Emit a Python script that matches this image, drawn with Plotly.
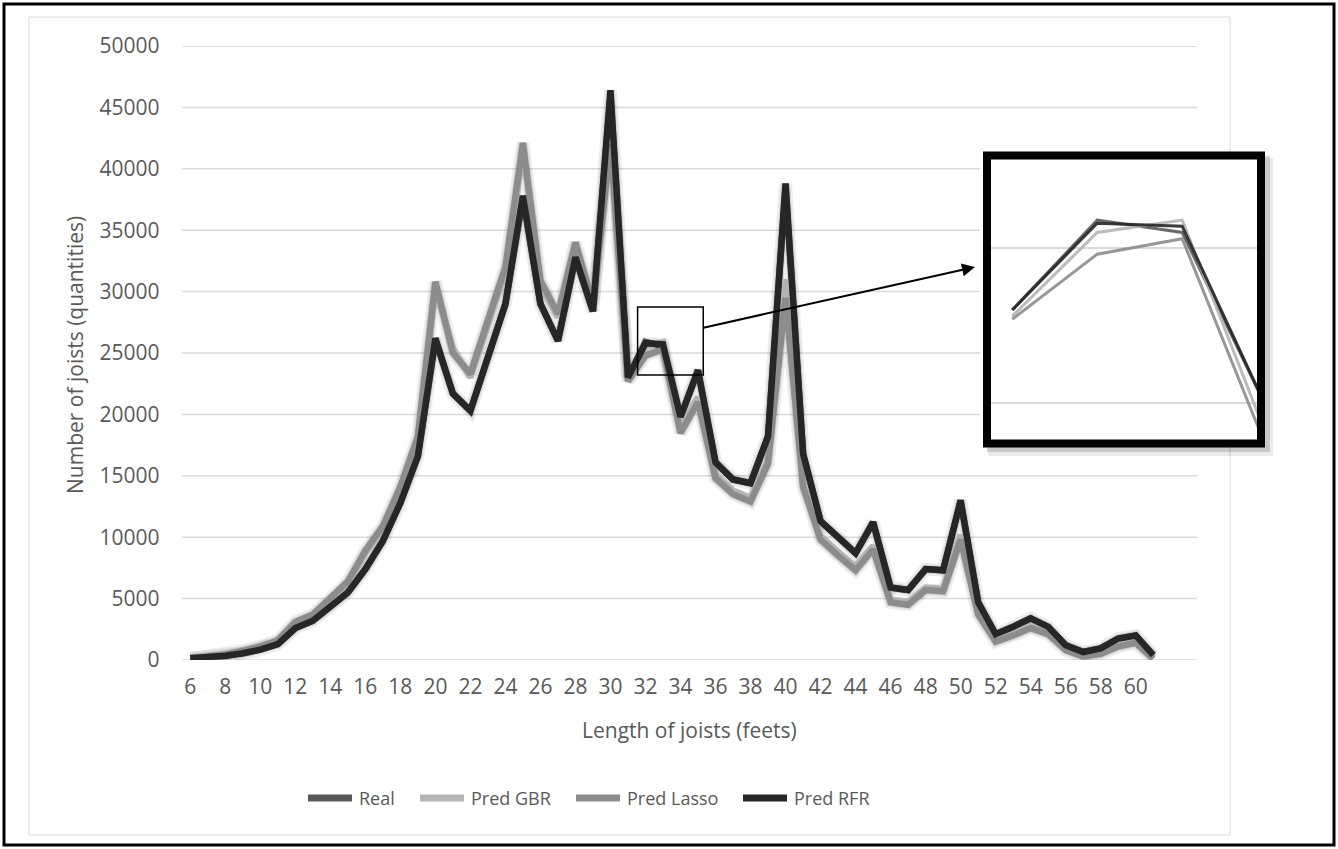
import plotly.graph_objects as go

# ---------------- data ----------------
lengths = list(range(6, 62))
real = [150, 200, 350, 550, 850, 1300, 2600, 3200, 4300, 5500,
        7400, 9700, 12800, 16600, 26000, 21700, 20300, 24500, 29000, 37600,
        29000, 26000, 32700, 28400, 46000, 23000, 25900, 25500, 19800, 23500,
        16100, 14700, 14400, 18200, 38500, 16800, 11300, 10000, 8700, 11200,
        5900, 5700, 7400, 7300, 12900, 4700, 2100, 2700, 3400, 2700,
        1200, 650, 950, 1750, 2000, 400]
pred_gbr = [120, 230, 420, 700, 1050, 1500, 3000, 3600, 4900, 6300,
            8700, 10700, 13900, 18000, 30200, 25400, 23000, 27300, 31600, 41500,
            30600, 27900, 33700, 28900, 43500, 22800, 25500, 25900, 18900, 21400,
            15100, 13800, 13200, 16300, 31000, 14400, 10100, 8800, 7600, 9300,
            4900, 4700, 5900, 5800, 10200, 3900, 1600, 2100, 2800, 2200,
            900, 350, 600, 1200, 1500, 150]
pred_lasso = [100, 250, 450, 750, 1100, 1600, 3100, 3700, 5000, 6400,
              8900, 10900, 14100, 18200, 30800, 25000, 23300, 27700, 32000, 42100,
              30900, 28200, 34000, 29000, 42000, 22700, 24800, 25300, 18500, 21000,
              14800, 13500, 12900, 16000, 29500, 14100, 9800, 8500, 7300, 9000,
              4700, 4500, 5700, 5600, 9800, 3700, 1500, 2000, 2600, 2100,
              800, 300, 500, 1100, 1400, 100]
pred_rfr = [150, 200, 350, 550, 850, 1300, 2600, 3200, 4300, 5500,
            7400, 9700, 12800, 16600, 26200, 21700, 20300, 24500, 29000, 37800,
            29000, 26000, 32800, 28400, 46400, 23000, 25800, 25700, 19800, 23600,
            16100, 14700, 14400, 18200, 38800, 16800, 11300, 10000, 8700, 11200,
            5900, 5700, 7400, 7300, 13000, 4700, 2100, 2700, 3400, 2700,
            1200, 650, 950, 1750, 2000, 400]

series_names = ["Real", "Pred GBR", "Pred Lasso", "Pred RFR"]
series_values = [real, pred_gbr, pred_lasso, pred_rfr]
series_colors = ["#595959", "#b4b4b4", "#8c8c8c", "#262626"]

y_ticks = list(range(0, 50001, 5000))
x_ticks = list(range(6, 61, 2))

# zoomed window (inset) shows lengths 31..35
zoom_start, zoom_end = 31, 35

# ---------------- layout helpers ----------------
W, H = 1338, 849


def fx(px):
    return px / W


def fy(py):
    return 1 - py / H


TEXT = "#595959"
GRID = "#d9d9d9"
FONT = "Open Sans"

fig = go.Figure()

# soft shadows under the main lines
for vals in (pred_lasso, pred_rfr):
    fig.add_trace(go.Scatter(x=lengths, y=vals, mode="lines",
                             line=dict(color="rgba(0,0,0,0.07)", width=13),
                             showlegend=False, hoverinfo="skip"))
    fig.add_trace(go.Scatter(x=lengths, y=vals, mode="lines",
                             line=dict(color="rgba(0,0,0,0.10)", width=9),
                             showlegend=False, hoverinfo="skip"))

for name, vals, col in zip(series_names, series_values, series_colors):
    fig.add_trace(go.Scatter(x=lengths, y=vals, mode="lines", name=name,
                             line=dict(color=col, width=6.5), showlegend=False))

# inset traces
i0 = lengths.index(zoom_start)
i1 = lengths.index(zoom_end) + 1
for name, vals, col in zip(series_names, series_values, series_colors):
    fig.add_trace(go.Scatter(x=lengths[i0:i1], y=vals[i0:i1], mode="lines",
                             line=dict(color=col, width=3), opacity=0.9,
                             xaxis="x2", yaxis="y2", showlegend=False,
                             hoverinfo="skip"))

shapes = []
# light frame of the chart area
shapes.append(dict(type="rect", xref="paper", yref="paper",
                   x0=fx(29), x1=fx(1230), y0=fy(835), y1=fy(17),
                   line=dict(color=GRID, width=1), layer="below"))
# horizontal gridlines (cut where the inset sits)
for v in y_ticks:
    x_end = fx(980) if 17000 < v < 41500 else fx(1197)
    shapes.append(dict(type="line", xref="paper", yref="y",
                       x0=fx(182), x1=x_end, y0=v, y1=v,
                       line=dict(color=GRID, width=1.5), layer="below"))
# inset shadow + white background
shapes.append(dict(type="rect", xref="paper", yref="paper",
                   x0=fx(988), x1=fx(1273), y0=fy(456), y1=fy(158),
                   fillcolor="rgba(0,0,0,0.08)", line=dict(width=0), layer="below"))
shapes.append(dict(type="rect", xref="paper", yref="paper",
                   x0=fx(987), x1=fx(1270), y0=fy(452), y1=fy(156),
                   fillcolor="rgba(0,0,0,0.15)", line=dict(width=0), layer="below"))
shapes.append(dict(type="rect", xref="paper", yref="paper",
                   x0=fx(983), x1=fx(1265), y0=fy(447), y1=fy(152),
                   fillcolor="white", line=dict(width=0), layer="below"))
# inset border
shapes.append(dict(type="rect", xref="paper", yref="paper",
                   x0=fx(987), x1=fx(1261), y0=fy(443.5), y1=fy(155.5),
                   line=dict(color="black", width=8), layer="above"))
# small selection box on the main chart
shapes.append(dict(type="rect", xref="x", yref="y",
                   x0=31.55, x1=35.3, y0=23200, y1=28750,
                   line=dict(color="black", width=1.5), layer="above"))
# outer border
shapes.append(dict(type="rect", xref="paper", yref="paper",
                   x0=fx(4), x1=fx(1334), y0=fy(845), y1=fy(4),
                   line=dict(color="black", width=3), layer="above"))

annotations = [
    dict(x=fx(975), y=fy(267), xref="paper", yref="paper", text="",
         showarrow=True, ax=-273, ay=61, arrowhead=2, arrowsize=1.3,
         arrowwidth=2, arrowcolor="black"),
    dict(x=fx(75), y=fy(355), xref="paper", yref="paper",
         xanchor="center", yanchor="middle",
         text="Number of joists (quantities)", showarrow=False, textangle=-90,
         font=dict(family=FONT, size=21, color=TEXT)),
    dict(x=fx(689), y=fy(730), xref="paper", yref="paper",
         xanchor="center", yanchor="middle",
         text="Length of joists (feets)", showarrow=False,
         font=dict(family=FONT, size=21, color=TEXT)),
]

# legend (line sample + label), laid out like the original
legend_x = [305, 417, 573, 740]
legend_y = 798
for name, col, lx in zip(series_names, series_colors, legend_x):
    shapes.append(dict(type="line", xref="paper", yref="paper",
                       x0=fx(lx + 3), x1=fx(lx + 47), y0=fy(legend_y), y1=fy(legend_y),
                       line=dict(color=col, width=7), layer="above"))
    annotations.append(dict(x=fx(lx + 52), y=fy(legend_y), xref="paper", yref="paper",
                            xanchor="left", yanchor="middle", text=name,
                            showarrow=False,
                            font=dict(family=FONT, size=18, color=TEXT)))

fig.update_layout(
    width=W, height=H,
    margin=dict(l=0, r=0, t=0, b=0, autoexpand=False),
    paper_bgcolor="white", plot_bgcolor="rgba(0,0,0,0)",
    font=dict(family=FONT, color=TEXT),
    shapes=shapes, annotations=annotations,
    showlegend=False,
    xaxis=dict(domain=[fx(181.5), fx(1197)], range=[5.5, 63.5],
               tickmode="array", tickvals=x_ticks,
               ticktext=[str(t) for t in x_ticks],
               showgrid=False, zeroline=False, showline=False, ticks="",
               tickfont=dict(family=FONT, size=21, color=TEXT),
               ticklabelstandoff=12),
    yaxis=dict(domain=[fy(660), fy(46)], range=[0, 50000],
               tickmode="array", tickvals=y_ticks,
               ticktext=[str(t) for t in y_ticks],
               showgrid=False, zeroline=False, showline=False, ticks="",
               tickfont=dict(family=FONT, size=21, color=TEXT),
               ticklabelstandoff=21),
    xaxis2=dict(domain=[fx(991), fx(1257)], range=[30.75, 33.88],
                anchor="y2", showgrid=False, zeroline=False,
                showticklabels=False, ticks=""),
    yaxis2=dict(domain=[fy(440), fy(159)], range=[18806, 27870],
                anchor="x2", tick0=0, dtick=5000, showgrid=True,
                gridcolor=GRID, gridwidth=1.5, zeroline=False,
                showticklabels=False, ticks=""),
)

fig.write_html("out.html", config={"displayModeBar": False},
               post_script="document.body.style.margin='0';"
                           "document.body.style.overflow='hidden';")
